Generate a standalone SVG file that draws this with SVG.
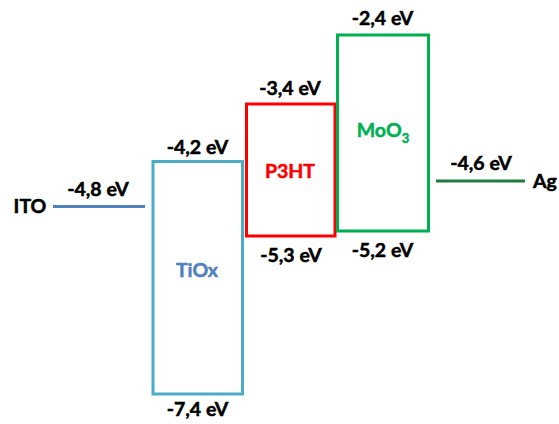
<svg xmlns="http://www.w3.org/2000/svg" width="559" height="424" viewBox="0 0 559 424">
<style>
text{font-family:Lato,"Open Sans","Liberation Sans",sans-serif;font-weight:bold;font-size:19.5px;fill:#000;stroke:#000;stroke-width:0.5;text-anchor:middle}
.box{fill:#fff;stroke-width:3}
.lvl{stroke-width:3}
.tiox{fill:#4f81bd;stroke:#4f81bd}
.p3ht{fill:#ff0000;stroke:#ff0000}
.moo3{fill:#00b050;stroke:#00b050}
</style>
<rect width="559" height="424" fill="#fff"/>
<g id="connectors">
<line id="ito-line" class="lvl" x1="53" y1="206.5" x2="145" y2="206.5" stroke="#4f81bd"/>
<line id="ag-line" class="lvl" x1="436" y1="181" x2="525" y2="181" stroke="#1e7b3e"/>
</g>
<g id="ITO">
<text x="30" y="213">ITO</text>
<text x="98" y="196">-4,8 eV</text>
</g>
<g id="TiOx">
<rect class="box" x="153" y="161.5" width="89.5" height="232.5" stroke="#4bacc6"/>
<text x="197.5" y="154">-4,2 eV</text>
<text class="tiox" x="197" y="277">TiOx</text>
<text x="197.5" y="416">-7,4 eV</text>
</g>
<g id="P3HT">
<rect class="box" x="246.5" y="104" width="88.5" height="132" stroke="#ff0000"/>
<text x="290" y="95">-3,4 eV</text>
<text class="p3ht" x="290" y="178">P3HT</text>
<text x="291" y="262">-5,3 eV</text>
</g>
<g id="MoO3">
<rect class="box" x="337.5" y="35" width="91" height="196" stroke="#00b050"/>
<text x="382.5" y="25">-2,4 eV</text>
<text class="moo3" x="383" y="137">MoO<tspan font-size="13" dy="6">3</tspan></text>
<text x="382.5" y="257">-5,2 eV</text>
</g>
<g id="Ag">
<text x="481" y="170">-4,6 eV</text>
<text x="545" y="188">Ag</text>
</g>
</svg>
